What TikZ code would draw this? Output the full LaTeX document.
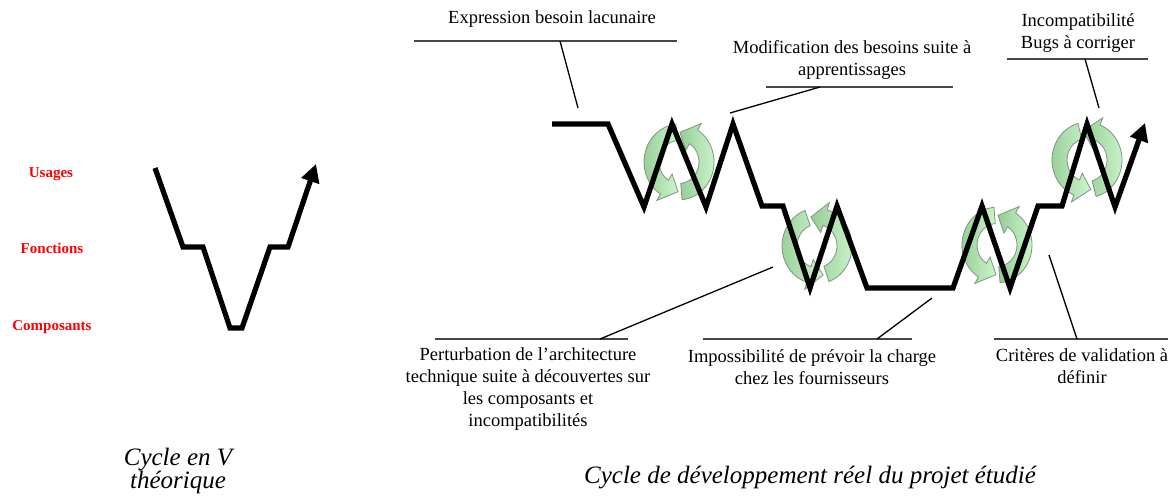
\documentclass[tikz,border=0pt]{standalone}
\usepackage{fontspec}
\setmainfont{Liberation Serif}
\usetikzlibrary{arrows.meta}
\definecolor{iconlight}{RGB}{205,245,205}
\definecolor{icondark}{RGB}{150,205,150}
\definecolor{iconedge}{RGB}{125,150,125}
\definecolor{ulgray}{RGB}{70,70,70}
\newcommand\myarcarrow[2]{%
  \shadedraw[left color=icondark,right color=iconlight,draw=iconedge,line width=0.8pt]
    (#1:35) arc[start angle=#1,end angle=#2,radius=35]
    -- (#2:42) -- ({#2+30}:27.5) -- (#2:13) -- (#2:20)
    arc[start angle=#2,end angle=#1,radius=20] -- cycle;}
\newcommand\mycycleicon[3]{%
  \begin{scope}[shift={(#1,#2)},yscale=-1.08,rotate=#3]
    \myarcarrow{95}{238}
    \myarcarrow{275}{418}
  \end{scope}}
\tikzset{
  lbl/.style={inner sep=0pt,align=center,font=\fontsize{18.5}{22}\selectfont},
  redlbl/.style={inner sep=0pt,text=red,font=\bfseries\fontsize{15}{18}\selectfont},
  caption/.style={inner sep=0pt,align=center,font=\itshape\fontsize{25}{23}\selectfont},
  underline/.style={draw=ulgray,line width=1.8pt},
  leader/.style={draw=black,line width=1.3pt},
  cycleline/.style={line width=5.2pt,line join=miter,miter limit=4}
}
\begin{document}
\begin{tikzpicture}[x=1pt,y=-1pt]
\useasboundingbox (0,0) rectangle (1174,496);
% left labels
\node[redlbl] (usages) at (51,174) {Usages};
\node[redlbl] (fonctions) at (52,248) {Fonctions};
\node[redlbl] (composants) at (52,327) {Composants};
% theoretical V
\draw[cycleline,-{Triangle[length=18pt,width=18pt]}]
  (155,168) -- (183,247) -- (203,247) -- (230,328) -- (242,328)
  -- (270,247) -- (288,247) -- (316,164);
% cycle icons
\mycycleicon{679}{162}{0}
\mycycleicon{817}{246}{-15}
\mycycleicon{997}{245}{0}
\mycycleicon{1087}{160}{-10}
% real cycle
\draw[cycleline,-{Triangle[length=18pt,width=18pt]}]
  (552,124) -- (608,124) -- (644,207) -- (672,124) -- (706,207)
  -- (733,124) -- (762,206) -- (783,206) -- (810,288) -- (837,206)
  -- (867,288) -- (953,288) -- (982,206) -- (1010,288) -- (1038,206)
  -- (1062,206) -- (1087,124) -- (1115,207) -- (1145,123);
% annotations
\node[lbl] (expr) at (552,19) {Expression besoin lacunaire};
\coordinate (exprL) at (414,41); \coordinate (exprR) at (677,41);
\coordinate (exprA) at (560,41); \coordinate (exprB) at (578,108);
\draw[underline] (exprL) -- (exprR);
\draw[leader] (exprA) -- (exprB);

\node[lbl] (modif) at (852,60) {Modification des besoins suite à\\apprentissages};
\coordinate (modifL) at (766,87); \coordinate (modifR) at (953,87);
\coordinate (modifA) at (820,87); \coordinate (modifB) at (730,113);
\draw[underline] (modifL) -- (modifR);
\draw[leader] (modifA) -- (modifB);

\node[lbl] (incomp) at (1078,33) {Incompatibilité\\Bugs à corriger};
\coordinate (incompL) at (1007,59); \coordinate (incompR) at (1148,59);
\coordinate (incompA) at (1085,59); \coordinate (incompB) at (1099,108);
\draw[underline] (incompL) -- (incompR);
\draw[leader] (incompA) -- (incompB);

\node[lbl] (pert) at (528,389) {Perturbation de l’architecture\\technique suite à découvertes sur\\les composants et\\incompatibilités};
\coordinate (pertL) at (435,339); \coordinate (pertR) at (628,339);
\coordinate (pertA) at (600,339); \coordinate (pertB) at (773,267);
\draw[underline] (pertL) -- (pertR);
\draw[leader] (pertA) -- (pertB);

\node[lbl] (imposs) at (812,367) {Impossibilité de prévoir la charge\\chez les fournisseurs};
\coordinate (impossL) at (703,339); \coordinate (impossR) at (912,339);
\coordinate (impossA) at (877,339); \coordinate (impossB) at (932,298);
\draw[underline] (impossL) -- (impossR);
\draw[leader] (impossA) -- (impossB);

\node[lbl] (crit) at (1082,366) {Critères de validation à\\définir};
\coordinate (critL) at (994,339); \coordinate (critR) at (1168,339);
\coordinate (critA) at (1077,339); \coordinate (critB) at (1049,255);
\draw[underline] (critL) -- (critR);
\draw[leader] (critA) -- (critB);

% captions
\node[caption] (capV) at (178,471) {Cycle en V\\théorique};
\node[caption] (capR) at (810,478) {Cycle de développement réel du projet étudié};
\end{tikzpicture}
\end{document}
